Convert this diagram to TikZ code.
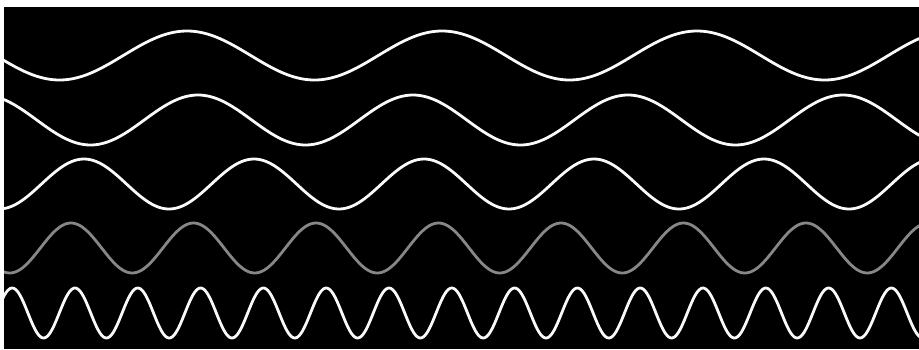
\documentclass[tikz,border=0pt]{standalone}
\usepackage{tikz}
\definecolor{waveGray}{RGB}{135,135,135}
\definecolor{waveWhite}{RGB}{250,250,250}
\tikzset{
  wave/.style={line width=2.8pt, line join=round, smooth},
}
\begin{document}
\begin{tikzpicture}[x=1pt,y=-1pt]
  \useasboundingbox (0,0) rectangle (919,349);
  \fill[white] (0,0) rectangle (919,349);
  \fill[black] (4,7) rectangle (919,349);
  \begin{scope}
    \clip (4,7) rectangle (919,349);
    % wave 1: period 255, first peak at 187
    \draw[wave, waveWhite] plot[domain=0:925, samples=300] (\x, {55.5 - 24.5*cos((\x-187)/255*360)});
    % wave 2: period 215, first peak at 198
    \draw[wave, waveWhite] plot[domain=0:925, samples=300] (\x, {120 - 25*cos((\x-198)/215*360)});
    % wave 3: period 170, first peak at 84
    \draw[wave, waveWhite] plot[domain=0:925, samples=300] (\x, {184 - 25*cos((\x-84)/170*360)});
    % wave 4 (grey): period 122.5, first peak at 71
    \draw[wave, waveGray] plot[domain=0:925, samples=400] (\x, {248 - 25*cos((\x-71)/122.5*360)});
    % wave 5: period 62.8, peak at 75
    \draw[wave, waveWhite] plot[domain=0:925, samples=600] (\x, {313 - 25*cos((\x-75)/62.8*360)});
  \end{scope}
\end{tikzpicture}
\end{document}
